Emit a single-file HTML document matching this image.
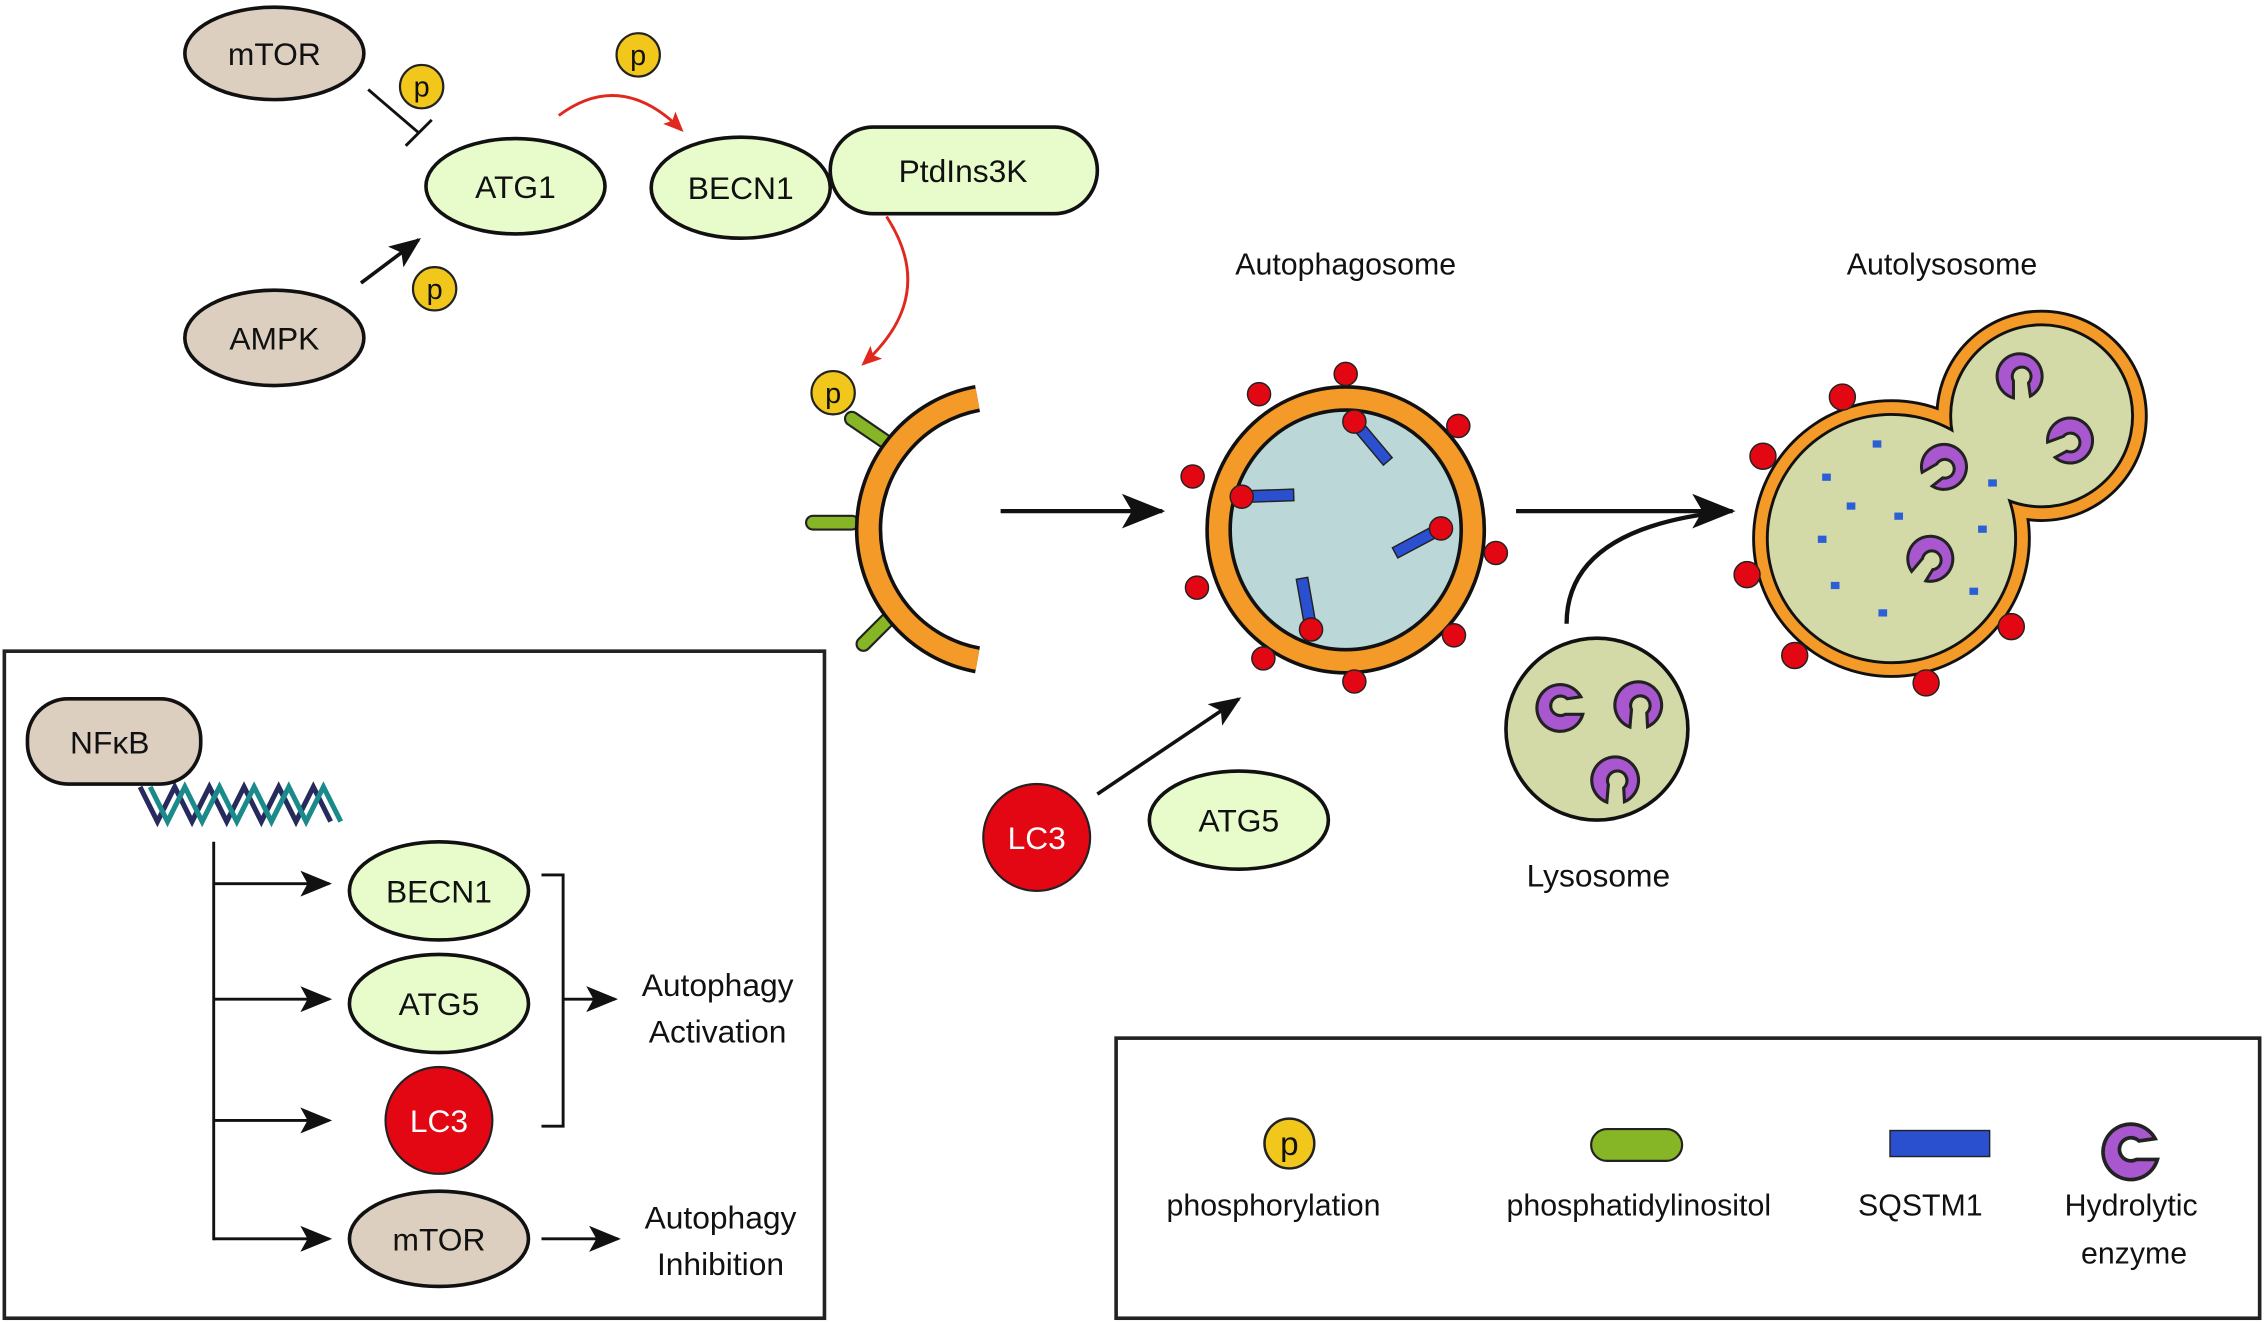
<!DOCTYPE html>
<html><head><meta charset="utf-8"><style>
html,body{margin:0;padding:0;background:#fff;}
svg{display:block;}
text{font-family:"Liberation Sans",Arial,sans-serif;fill:#111;}
</style></head><body>
<svg width="2264" height="1323" viewBox="0 0 1568 916.3" xmlns="http://www.w3.org/2000/svg">
<defs>
<marker id="abig" markerWidth="30" markerHeight="24" refX="28" refY="12" orient="auto" markerUnits="userSpaceOnUse"><path d="M0,0 L30,12 L0,24 L7,12Z" fill="#111"/></marker>
<marker id="amed" markerWidth="22" markerHeight="18" refX="20" refY="9" orient="auto" markerUnits="userSpaceOnUse"><path d="M0,0 L22,9 L0,18 L5,9Z" fill="#111"/></marker>
<marker id="ared" markerWidth="14" markerHeight="12" refX="12" refY="6" orient="auto" markerUnits="userSpaceOnUse"><path d="M0,0 L14,6 L0,12 L3,6Z" fill="#e0281e"/></marker>
<g id="enz"><path d="M11,-4 A12,12 0 1 0 12,5 L3,5 A5,5 0 1 1 4,-3 Z" fill="#a857cf" stroke="#222" stroke-width="1.6"/></g>
<g id="pc"><circle r="15" fill="#f1c71c" stroke="#222" stroke-width="1.5"/><text y="7" text-anchor="middle" font-size="20">p</text></g>
</defs>

<!-- top signaling -->
<ellipse cx="190" cy="37" rx="62" ry="32" fill="#ddcfc0" stroke="#111" stroke-width="2.5"/>
<text x="190" y="45" text-anchor="middle" font-size="22">mTOR</text>
<ellipse cx="190" cy="234" rx="62" ry="33" fill="#ddcfc0" stroke="#111" stroke-width="2.5"/>
<text x="190" y="242" text-anchor="middle" font-size="22">AMPK</text>
<ellipse cx="357" cy="129" rx="62" ry="33" fill="#e7fbcb" stroke="#111" stroke-width="2.5"/>
<text x="357" y="137" text-anchor="middle" font-size="22">ATG1</text>
<ellipse cx="513" cy="130" rx="62" ry="35" fill="#e7fbcb" stroke="#111" stroke-width="2.5"/>
<text x="513" y="138" text-anchor="middle" font-size="22">BECN1</text>
<rect x="575" y="88" width="185" height="60" rx="30" fill="#e7fbcb" stroke="#111" stroke-width="2.5"/>
<text x="667" y="126" text-anchor="middle" font-size="22">PtdIns3K</text>
<use href="#pc" x="292" y="60"/>
<use href="#pc" x="442" y="38"/>
<use href="#pc" x="301" y="200"/>
<line x1="255" y1="62" x2="290" y2="92" stroke="#111" stroke-width="2"/>
<line x1="281" y1="101" x2="299" y2="83" stroke="#111" stroke-width="2"/>
<line x1="250" y1="196" x2="290" y2="166" stroke="#111" stroke-width="2.5" marker-end="url(#amed)"/>
<path d="M387,80 Q430,48 472,90" fill="none" stroke="#e0281e" stroke-width="2" marker-end="url(#ared)"/>
<path d="M614,150 Q650,205 598,252" fill="none" stroke="#e0281e" stroke-width="2" marker-end="url(#ared)"/>

<!-- phagophore -->
<line x1="590" y1="290" x2="612" y2="305" stroke="#222" stroke-width="11" stroke-linecap="round"/>
<line x1="590" y1="290" x2="612" y2="305" stroke="#86b525" stroke-width="8" stroke-linecap="round"/>
<line x1="563" y1="362" x2="590" y2="362" stroke="#222" stroke-width="11" stroke-linecap="round"/>
<line x1="563" y1="362" x2="590" y2="362" stroke="#86b525" stroke-width="8" stroke-linecap="round"/>
<line x1="598" y1="446" x2="614" y2="430" stroke="#222" stroke-width="11" stroke-linecap="round"/>
<line x1="598" y1="446" x2="614" y2="430" stroke="#86b525" stroke-width="8" stroke-linecap="round"/>
<use href="#pc" x="577" y="272"/>
<path d="M677,276 A92,92 0 0 0 677,457" fill="none" stroke="#111" stroke-width="19"/>
<path d="M677,276 A92,92 0 0 0 677,457" fill="none" stroke="#f39a28" stroke-width="14"/>

<line x1="693" y1="354" x2="805" y2="354" stroke="#111" stroke-width="3" marker-end="url(#abig)"/>

<!-- autophagosome -->
<text x="932" y="190" text-anchor="middle" font-size="21">Autophagosome</text>
<ellipse cx="932" cy="367" rx="96" ry="99" fill="#f39a28" stroke="#111" stroke-width="2.5"/>
<ellipse cx="932" cy="367" rx="80" ry="83" fill="#bcd7d7" stroke="#111" stroke-width="2.5"/>
<g fill="#2a4fcf" stroke="#222" stroke-width="1">
<rect x="-4" y="0" width="8" height="36" transform="translate(938,292) rotate(-40)"/>
<rect x="-4" y="0" width="8" height="36" transform="translate(860,344) rotate(-92)"/>
<rect x="-4" y="0" width="8" height="36" transform="translate(998,366) rotate(62)"/>
<rect x="-4" y="0" width="8" height="36" transform="translate(908,436) rotate(170)"/>
</g>
<g fill="#e30613" stroke="#222" stroke-width="1">
<circle cx="938" cy="292" r="8"/><circle cx="860" cy="344" r="8"/><circle cx="998" cy="366" r="8"/><circle cx="908" cy="436" r="8"/>
<circle cx="932" cy="259" r="8"/><circle cx="872" cy="273" r="8"/><circle cx="1010" cy="295" r="8"/><circle cx="826" cy="330" r="8"/>
<circle cx="1036" cy="383" r="8"/><circle cx="829" cy="407" r="8"/><circle cx="1007" cy="440" r="8"/><circle cx="875" cy="456" r="8"/><circle cx="938" cy="472" r="8"/>
</g>

<line x1="1050" y1="354" x2="1200" y2="354" stroke="#111" stroke-width="3" marker-end="url(#abig)"/>
<path d="M1085,432 Q1085,365 1198,354" fill="none" stroke="#111" stroke-width="3"/>

<!-- autolysosome -->
<text x="1345" y="190" text-anchor="middle" font-size="21">Autolysosome</text>
<g fill="#111"><circle cx="1310" cy="373" r="96.5"/><circle cx="1414" cy="288" r="73.5"/></g>
<g fill="#f39a28"><circle cx="1310" cy="373" r="94.5"/><circle cx="1414" cy="288" r="71.5"/></g>
<g fill="#111"><circle cx="1310" cy="373" r="87"/><circle cx="1414" cy="288" r="64"/></g>
<g fill="#d4d9a8"><circle cx="1310" cy="373" r="85"/><circle cx="1414" cy="288" r="62"/></g>
<g fill="#2a5fd6">
<rect x="1297" y="305" width="6" height="5"/><rect x="1262" y="328" width="6" height="5"/><rect x="1279" y="348" width="6" height="5"/><rect x="1312" y="355" width="6" height="5"/><rect x="1259" y="371" width="6" height="5"/><rect x="1268" y="403" width="6" height="5"/><rect x="1301" y="422" width="6" height="5"/><rect x="1364" y="407" width="6" height="5"/><rect x="1370" y="364" width="6" height="5"/><rect x="1377" y="332" width="6" height="5"/>
</g>
<use href="#enz" transform="translate(1401,260) rotate(90) scale(1.3)"/>
<use href="#enz" transform="translate(1435,307) rotate(160) scale(1.3)"/>
<use href="#enz" transform="translate(1348,325) rotate(150) scale(1.3)"/>
<use href="#enz" transform="translate(1339,388) rotate(130) scale(1.3)"/>
<g fill="#e30613" stroke="#222" stroke-width="1">
<circle cx="1276" cy="275" r="9"/><circle cx="1221" cy="316" r="9"/><circle cx="1210" cy="398" r="9"/><circle cx="1243" cy="454" r="9"/><circle cx="1334" cy="473" r="9"/><circle cx="1393" cy="434" r="9"/>
</g>

<!-- lysosome -->
<circle cx="1106" cy="505" r="63" fill="#d4d9a8" stroke="#111" stroke-width="2.5"/>
<use href="#enz" transform="translate(1080,488) scale(1.35)"/>
<use href="#enz" transform="translate(1137,488) rotate(95) scale(1.35)"/>
<use href="#enz" transform="translate(1121,540) rotate(95) scale(1.35)"/>
<text x="1107" y="614" text-anchor="middle" font-size="22">Lysosome</text>

<circle cx="718" cy="580" r="37" fill="#e30613" stroke="#222" stroke-width="1.5"/>
<text x="718" y="588" text-anchor="middle" font-size="22" style="fill:#fff">LC3</text>
<ellipse cx="858" cy="568" rx="62" ry="34" fill="#e7fbcb" stroke="#111" stroke-width="2.5"/>
<text x="858" y="576" text-anchor="middle" font-size="22">ATG5</text>
<line x1="760" y1="550" x2="858" y2="484" stroke="#111" stroke-width="2.5" marker-end="url(#amed)"/>

<!-- left box -->
<rect x="3" y="451" width="568" height="462" fill="none" stroke="#222" stroke-width="2.5"/>
<g fill="none" stroke-width="3.5">
<path d="M97,545 l12,24 l12,-24 l12,24 l12,-24 l12,24 l12,-24 l12,24 l12,-24 l12,24 l12,-24 l12,24 " stroke="#272a5c"/>
<path d="M104,545 l12,24 l12,-24 l12,24 l12,-24 l12,24 l12,-24 l12,24 l12,-24 l12,24 l12,-24 l12,24 " stroke="#1a8a8a"/>
</g>
<rect x="19" y="484" width="120" height="59" rx="28" fill="#ddcfc0" stroke="#111" stroke-width="2.5"/>
<text x="76" y="522" text-anchor="middle" font-size="22">NFκB</text>
<line x1="148" y1="583" x2="148" y2="859" stroke="#111" stroke-width="2"/>
<g stroke="#111" stroke-width="2">
<line x1="148" y1="612" x2="228" y2="612" marker-end="url(#amed)"/>
<line x1="148" y1="692" x2="228" y2="692" marker-end="url(#amed)"/>
<line x1="148" y1="776" x2="228" y2="776" marker-end="url(#amed)"/>
<line x1="148" y1="858" x2="228" y2="858" marker-end="url(#amed)"/>
</g>
<ellipse cx="304" cy="617" rx="62" ry="34" fill="#e7fbcb" stroke="#111" stroke-width="2.5"/>
<text x="304" y="625" text-anchor="middle" font-size="22">BECN1</text>
<ellipse cx="304" cy="695" rx="62" ry="34" fill="#e7fbcb" stroke="#111" stroke-width="2.5"/>
<text x="304" y="703" text-anchor="middle" font-size="22">ATG5</text>
<circle cx="304" cy="776" r="37" fill="#e30613" stroke="#222" stroke-width="1.5"/>
<text x="304" y="784" text-anchor="middle" font-size="22" style="fill:#fff">LC3</text>
<ellipse cx="304" cy="858" rx="62" ry="33" fill="#ddcfc0" stroke="#111" stroke-width="2.5"/>
<text x="304" y="866" text-anchor="middle" font-size="22">mTOR</text>
<path d="M375,606 H390 V780 H375" fill="none" stroke="#111" stroke-width="2"/>
<line x1="390" y1="692" x2="426" y2="692" stroke="#111" stroke-width="2" marker-end="url(#amed)"/>
<line x1="375" y1="858" x2="428" y2="858" stroke="#111" stroke-width="2" marker-end="url(#amed)"/>
<text x="497" y="690" text-anchor="middle" font-size="22">Autophagy</text>
<text x="497" y="722" text-anchor="middle" font-size="22">Activation</text>
<text x="499" y="851" text-anchor="middle" font-size="22">Autophagy</text>
<text x="499" y="883" text-anchor="middle" font-size="22">Inhibition</text>

<!-- legend -->
<rect x="773" y="719" width="792" height="194" fill="none" stroke="#222" stroke-width="2.5"/>
<use href="#pc" transform="translate(893,792) scale(1.15)"/>
<text x="882" y="842" text-anchor="middle" font-size="21">phosphorylation</text>
<rect x="1102" y="782" width="63" height="22" rx="11" fill="#86b525" stroke="#222" stroke-width="1.5"/>
<text x="1135" y="842" text-anchor="middle" font-size="21">phosphatidylinositol</text>
<rect x="1309" y="783" width="69" height="18" fill="#2a4fcf" stroke="#222" stroke-width="1"/>
<text x="1330" y="842" text-anchor="middle" font-size="21">SQSTM1</text>
<use href="#enz" transform="translate(1475,795) scale(1.6)"/>
<text x="1476" y="842" text-anchor="middle" font-size="21">Hydrolytic</text>
<text x="1478" y="875" text-anchor="middle" font-size="21">enzyme</text>
</svg>
</body></html>
